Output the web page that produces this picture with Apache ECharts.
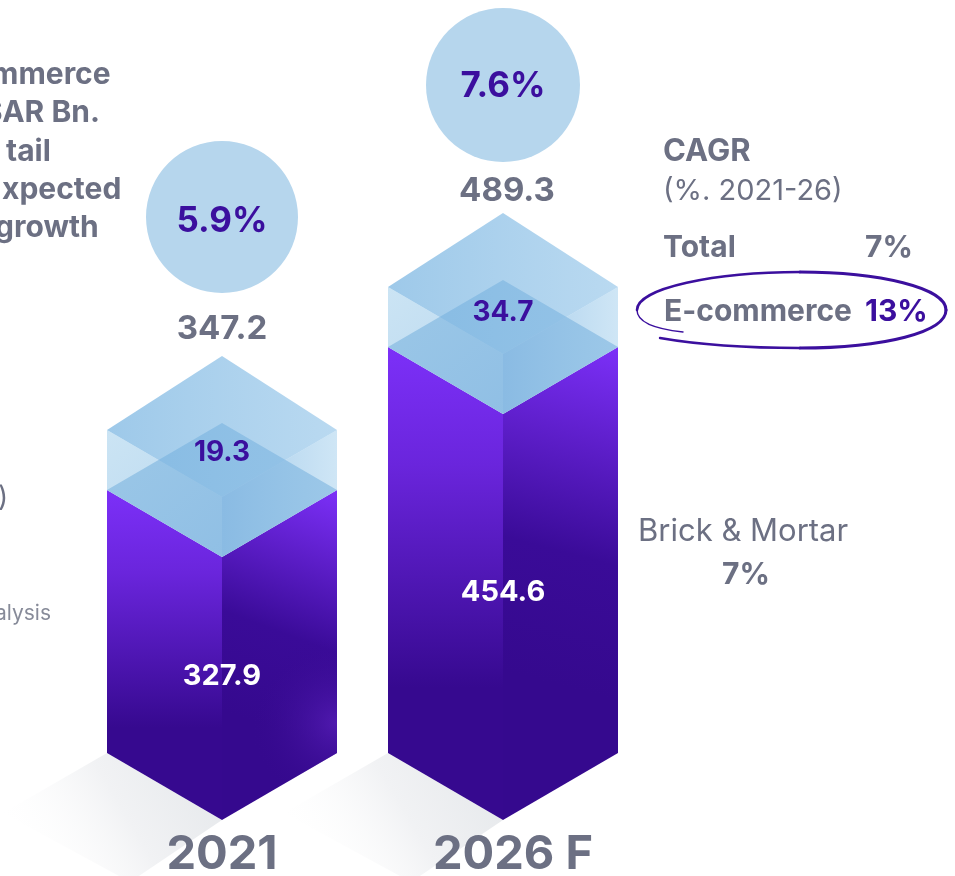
<!DOCTYPE html>
<html>
<head>
<meta charset="utf-8">
<style>html,body{margin:0;padding:0;background:#fff}#c{width:955px;height:876px}</style>
<script src="https://cdn.jsdelivr.net/npm/echarts@6/dist/echarts.min.js"></script>
</head>
<body>
<div id="c"></div>
<script>
// ---- data ----
const categories = ['2021', '2026 F'];
const brickMortar = [327.9, 454.6];
const ecommerce = [19.3, 34.7];
const totals = [347.2, 489.3];
const growthRates = ['5.9%', '7.6%'];

// ---- layout / style constants ----
const FONT = 'Inter, Lato, sans-serif';
const GREY = '#6c7083';
const INK = '#3b0f9e';
const HW = 115, DROP = 67, BACK = 74, CAP = 60;
const bubbleOffset = [-139, -128];
const bubbleRadius = [76, 77];
const bubbleLabelDy = [4, 1];
const totalOffset = [-27, -22];
const totalDx = [0, 4];
const brickLabelOffset = [186, 245];
const capLabelOffset = [23, 26];
const cornerGlow = [0.85, 0];

const rows = categories.map((c, i) => [i, brickMortar[i], ecommerce[i], totals[i], growthRates[i]]);
const lg = (x, y, x2, y2, stops) => ({type: 'linear', x, y, x2, y2,
  colorStops: stops.map(s => ({offset: s[0], color: s[1]}))});
const poly = (points, fill, z2) => ({type: 'polygon', z2: z2 || 0, shape: {points}, style: {fill}});
const txt = (x, y, text, size, fill, weight) => ({type: 'text', z2: 30,
  style: {x, y, text, fill, font: (weight || 700) + ' ' + size + 'px ' + FONT, align: 'center', verticalAlign: 'middle'}});

function renderBar(params, api) {
  const i = api.value(0);
  const base = api.coord([i, yMin]);
  const top = api.coord([i, api.value(1)]);
  const cx = base[0], yb = base[1], yt = top[1], yc = yt - CAP;
  const L = cx - HW, R = cx + HW;
  const kids = [];
  // ground shadow
  kids.push(poly([[L, yb], [cx, yb + DROP], [cx - 92, yb + DROP + 62], [L - 104, yb + 60]],
    lg(1, 0, 0.1, 0.9, [[0, '#e4e7ea'], [0.5, '#f1f2f4'], [1, 'rgba(255,255,255,0)']]), 1));
  // brick and mortar body
  kids.push(poly([[L, yt], [cx, yt + DROP], [cx, yb + DROP], [L, yb]],
    lg(0, 0, 0, 1, [[0, '#7c30f8'], [0.25, '#6a25dc'], [0.72, '#36098f'], [1, '#36098f']]), 2));
  kids.push(poly([[cx, yt + DROP], [R, yt], [R, yb], [cx, yb + DROP]],
    lg(1, 0, 0.25, 0.7, [[0, '#7c30f8'], [0.28, '#5f1fcc'], [0.62, '#3a0b98'], [1, '#35098e']]), 3));
  if (cornerGlow[i] > 0) {
    const faceH = yb + DROP - yt;
    kids.push(poly([[cx, yt + DROP], [R, yt], [R, yb], [cx, yb + DROP]], {
      type: 'radial', x: 1, y: (yb - 30 - yt) / faceH, r: 0.75,
      colorStops: [{offset: 0, color: 'rgba(84,28,180,' + cornerGlow[i] + ')'}, {offset: 1, color: 'rgba(54,9,143,0)'}]
    }, 4));
  }
  // e-commerce translucent cap, back to front
  kids.push(poly([[L, yt], [cx, yt - DROP], [R, yt], [cx, yt + DROP]], '#a8cbe8', 5));
  kids.push(poly([[L, yc], [cx, yc - BACK], [R, yc], [cx, yc + DROP]],
    lg(0, 0, 1, 0, [[0, 'rgba(120,180,225,0.72)'], [1, 'rgba(135,190,230,0.58)']]), 6));
  kids.push(poly([[L, yc], [cx, yc + DROP], [cx, yt + DROP], [L, yt]],
    lg(0, 0, 0.9, 1, [[0, 'rgba(140,195,230,0.45)'], [1, 'rgba(125,182,226,0.55)']]), 7));
  kids.push(poly([[cx, yc + DROP], [R, yc], [R, yt], [cx, yt + DROP]],
    lg(0, 0.5, 1, 0.5, [[0, 'rgba(125,180,225,0.7)'], [1, 'rgba(140,195,232,0.42)']]), 8));
  // value labels
  kids.push(txt(cx, yt + brickLabelOffset[i], api.value(1).toFixed(1), 29, '#ffffff'));
  kids.push(txt(cx, yc + capLabelOffset[i], api.value(2).toFixed(1), 28, INK));
  kids.push(txt(cx + totalDx[i], yc - BACK + totalOffset[i], api.value(3).toFixed(1), 33, GREY));
  const by = yc - BACK + bubbleOffset[i];
  kids.push({type: 'circle', z2: 10, shape: {cx, cy: by, r: bubbleRadius[i]}, style: {fill: '#b6d6ed'}});
  kids.push(txt(cx, by + bubbleLabelDy[i], growthRates[i], 35, INK));
  return {type: 'group', children: kids};
}

const yMin = 95, yMax = 715;
const side = (left, top, text, size, fill, weight) => ({type: 'text', left, top,
  style: {text, fill, font: (weight || 700) + ' ' + size + 'px ' + FONT}});
const curve = (x1, y1, cpx1, cpy1, cpx2, cpy2, x2, y2, w) => ({type: 'bezierCurve', z: 5,
  shape: {x1, y1, cpx1, cpy1, cpx2, cpy2, x2, y2},
  style: {fill: 'none', stroke: INK, lineWidth: w, lineCap: 'round'}});

const option = {
  animation: false,
  backgroundColor: '#ffffff',
  grid: {left: 81.5, right: 311.5, top: 53, bottom: 123, outerBoundsMode: 'none'},
  xAxis: {type: 'category', data: categories, z: 20, axisLine: {show: false}, axisTick: {show: false},
    axisLabel: {interval: 0, margin: 78, color: GREY, fontFamily: FONT, fontWeight: 700, fontSize: 47,
      formatter: v => v === categories[1] ? '{f|' + v + '}' : v,
      rich: {f: {padding: [0, 0, 0, 20], color: GREY, fontFamily: FONT, fontWeight: 700, fontSize: 47}}}},
  yAxis: {type: 'value', min: yMin, max: yMax, show: false},
  series: [{type: 'custom', data: rows, renderItem: renderBar, clip: false,
    encode: {x: 0, y: 1}, silent: true}],
  graphic: [
    side(-9, 60, 'mmerce', 30, GREY),
    side(-17, 98, 'SAR Bn.', 30, GREY),
    side(6, 137, 'tail', 30, GREY),
    side(2, 175, 'xpected', 30, GREY),
    side(-5, 213, 'growth', 30, GREY),
    side(-2, 484, ')', 28, GREY, 400),
    side(-5, 603, 'alysis', 21, '#878b99', 400),
    side(663, 136, 'CAGR', 31, GREY),
    side(663, 177, '(%. 2021-26)', 29, GREY, 400),
    side(663, 233, 'Total', 30, GREY),
    side(865, 233, '7%', 30, GREY),
    side(664, 297, 'E-commerce', 30, GREY),
    side(865, 297, '13%', 30, INK),
    side(638, 516, 'Brick & Mortar', 31, GREY, 400),
    side(722, 560, '7%', 30, GREY),
    curve(683, 332, 655, 329, 637, 322, 637, 310, 1.4),
    curve(637, 310, 637, 288, 715, 272, 800, 272, 2.6),
    curve(800, 272, 880, 272, 946, 288, 946, 310, 3),
    curve(946, 310, 946, 332, 885, 348, 800, 348, 3),
    curve(800, 348, 750, 348, 700, 345, 660, 338, 2.4)
  ]
};
const chart = echarts.init(document.getElementById('c'), null, {renderer: 'canvas', width: 955, height: 876});
chart.setOption(option);
</script>
</body>
</html>
